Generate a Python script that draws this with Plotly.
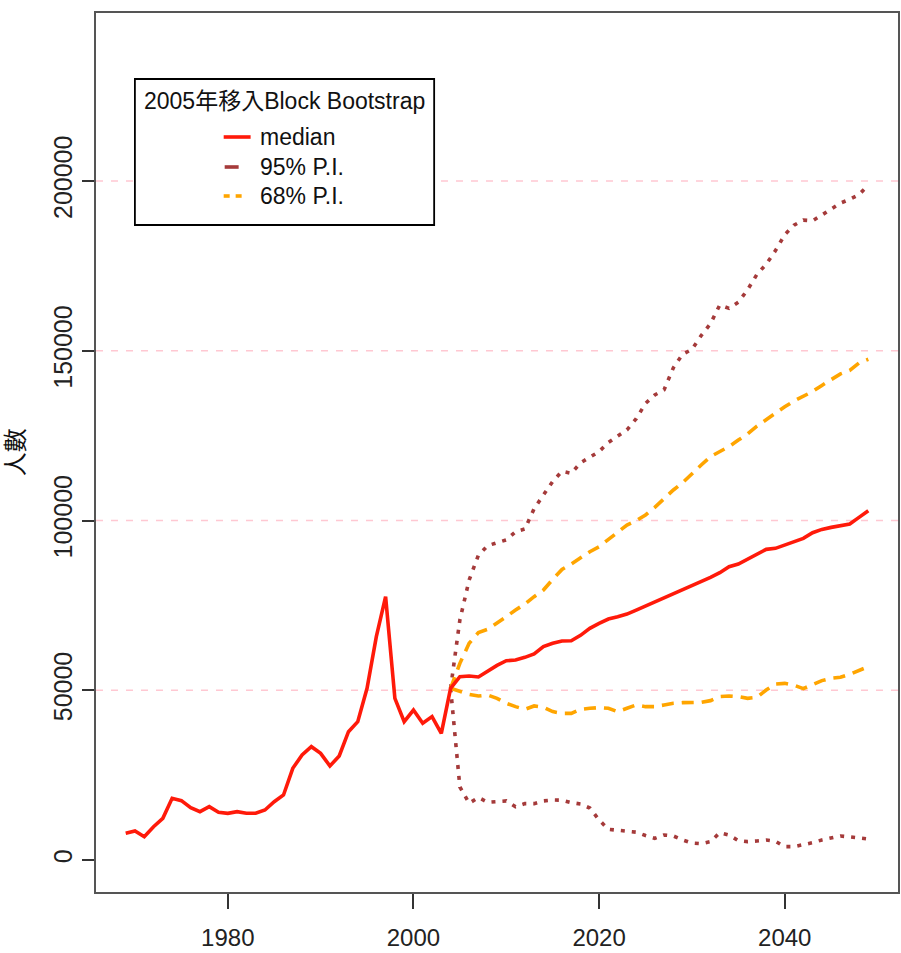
import plotly.graph_objects as go

# ---------------- data ----------------
years_obs = list(range(1969, 2005))
median_obs = [7860, 8540, 6870, 9800, 12280, 18170, 17470, 15410, 14230, 15700,
              14050, 13750, 14230, 13750, 13750, 14730, 17180, 19150, 27000, 30930,
              33380, 31420, 27690, 30630, 37800, 40740, 50570, 65780, 77560, 47630,
              40740, 44180, 40260, 42220, 37310, 50570]

years_fc = list(range(2004, 2050))
median_fc = [50570, 54000, 54200, 53900, 55760, 57330, 58700, 58900, 59700, 60680,
             62840, 63820, 64500, 64600, 66170, 68230, 69700, 70980, 71670, 72450,
             73630, 74800, 76080, 77260, 78540, 79720, 80700, 81970, 83250, 84630,
             86400, 87180, 88560, 90030, 91500, 91800, 92780, 93760, 94740, 96410,
             97390, 97980, 98370, 98960, 100920, 102880]
lo68 = [50570, 49600, 48800, 48300, 48600, 47620, 46150, 45170, 44380, 45370,
        44970, 43700, 43200, 43200, 44380, 44680, 44870, 44680, 43700, 44680,
        45660, 45170, 45170, 45660, 46150, 46350, 46450, 46450, 46940, 48120,
        48320, 48120, 47620, 47920, 50080, 51850, 52040, 51460, 50480, 51560,
        52840, 53530, 53820, 54710, 55980, 56960]
hi68 = [50570, 57930, 63820, 67000, 67950, 69700, 71670, 73630, 75400, 77560,
        79520, 82660, 85600, 87180, 89140, 90810, 92290, 94450, 96700, 98670,
        99950, 101620, 103880, 106530, 108990, 111150, 113900, 116350, 118810, 120200,
        121800, 123700, 125500, 127800, 129800, 131600, 133500, 135200, 136600, 138000,
        139800, 141500, 143200, 144200, 146400, 147500]
lo95 = [50570, 21500, 16700, 18400, 17000, 17200, 17400, 15700, 16600, 16600,
        17400, 17670, 17600, 16900, 16500, 15300, 11780, 9040, 8840, 8600,
        8200, 7200, 6380, 7360, 7070, 5900, 5000, 4800, 5400, 8050,
        7360, 5700, 5400, 5600, 5890, 5500, 3930, 3930, 4420, 5100,
        5900, 6380, 7070, 6800, 6400, 6190]
hi95 = [50570, 70700, 82500, 89800, 92600, 93500, 94300, 96700, 97500, 103500,
        107500, 111500, 114500, 113900, 117000, 118500, 120300, 123000, 124800, 126700,
        130000, 134500, 137000, 138500, 145000, 149000, 150400, 154500, 158000, 163500,
        162500, 164300, 168000, 172500, 175500, 179500, 184200, 187000, 188500, 188300,
        190000, 191800, 193500, 194600, 196000, 198800]

y_ticks = [0, 50000, 100000, 150000, 200000]
x_ticks = [1980, 2000, 2020, 2040]
grid_vals = [50000, 100000, 150000, 200000]

legend_title = "2005年移入Block Bootstrap"
legend_labels = ["median", "95% P.I.", "68% P.I."]
y_title = "人數"

RED = "#FF1A0A"
BROWN = "#A53A3A"
ORANGE = "#FFA500"
FONT = "Liberation Sans, Arial, Noto Sans CJK TC, sans-serif"

fig = go.Figure()

fig.add_trace(go.Scatter(x=years_fc, y=hi95, mode="lines",
                         line=dict(color=BROWN, width=3.6, dash="4px,7px"), showlegend=False))
fig.add_trace(go.Scatter(x=years_fc, y=lo95, mode="lines",
                         line=dict(color=BROWN, width=3.6, dash="4px,7px"), showlegend=False))
fig.add_trace(go.Scatter(x=years_fc, y=hi68, mode="lines",
                         line=dict(color=ORANGE, width=3.6, dash="12px,8px"), showlegend=False))
fig.add_trace(go.Scatter(x=years_fc, y=lo68, mode="lines",
                         line=dict(color=ORANGE, width=3.6, dash="12px,8px"), showlegend=False))
fig.add_trace(go.Scatter(x=years_obs + years_fc[1:], y=median_obs + median_fc[1:], mode="lines",
                         line=dict(color=RED, width=3.6), showlegend=False))

shapes = []
for v in grid_vals:
    shapes.append(dict(type="line", xref="paper", x0=0, x1=1, yref="y", y0=v, y1=v,
                       line=dict(color="#FFC8D2", width=1.6, dash="7px,8px"), layer="below"))

# legend box (pixel -> paper conversion)
L, R_, T, B = 96, 900, 13, 892
def px(x):
    return (x - L) / (R_ - L)
def py(y):
    return (B - y) / (B - T)

shapes.append(dict(type="rect", xref="paper", yref="paper", x0=px(135), x1=px(435),
                   y0=py(225), y1=py(79), line=dict(color="black", width=1.8),
                   fillcolor="white", layer="above"))
# legend symbols
shapes.append(dict(type="line", xref="paper", yref="paper", x0=px(224), x1=px(251),
                   y0=py(137), y1=py(137), line=dict(color=RED, width=3.6)))
shapes.append(dict(type="line", xref="paper", yref="paper", x0=px(225), x1=px(239),
                   y0=py(167), y1=py(167), line=dict(color=BROWN, width=3.6)))
shapes.append(dict(type="line", xref="paper", yref="paper", x0=px(224), x1=px(230),
                   y0=py(196), y1=py(196), line=dict(color=ORANGE, width=3.6)))
shapes.append(dict(type="line", xref="paper", yref="paper", x0=px(236), x1=px(242),
                   y0=py(196), y1=py(196), line=dict(color=ORANGE, width=3.6)))

annotations = [
    dict(text=legend_title, xref="paper", yref="paper", x=px(285), y=py(101),
         xanchor="center", yanchor="middle", showarrow=False,
         font=dict(family=FONT, size=23, color="#111")),
]
for lab, yy in zip(legend_labels, [137, 167, 196]):
    annotations.append(dict(text=lab, xref="paper", yref="paper", x=px(258), y=py(yy),
                            xanchor="left", yanchor="middle", showarrow=False,
                            font=dict(family=FONT, size=23, color="#111")))
annotations.append(dict(text=y_title, xref="paper", yref="paper", x=px(15), y=py(452),
                        xanchor="center", yanchor="middle", showarrow=False, textangle=-90,
                        font=dict(family=FONT, size=24, color="#111")))

fig.update_layout(
    width=901, height=953,
    margin=dict(l=96, r=1, t=13, b=61),
    paper_bgcolor="white", plot_bgcolor="white",
    shapes=shapes, annotations=annotations,
    showlegend=False,
    xaxis=dict(range=[1965.8, 2052.2], tickvals=x_ticks, ticktext=[str(v) for v in x_ticks],
               ticks="outside", ticklen=15, tickwidth=1.6, tickcolor="#333",
               ticklabelstandoff=8,
               showline=True, mirror=True, linecolor="#555", linewidth=2,
               showgrid=False, zeroline=False,
               tickfont=dict(family=FONT, size=24, color="#222")),
    yaxis=dict(range=[-9430, 249500], tickvals=y_ticks, ticktext=[str(v) for v in y_ticks],
               ticks="outside", ticklen=12, tickwidth=1.6, tickcolor="#333", tickangle=-90,
               showline=True, mirror=True, linecolor="#555", linewidth=2,
               showgrid=False, zeroline=False,
               tickfont=dict(family=FONT, size=25, color="#222")),
)

fig.write_html("out.html")
